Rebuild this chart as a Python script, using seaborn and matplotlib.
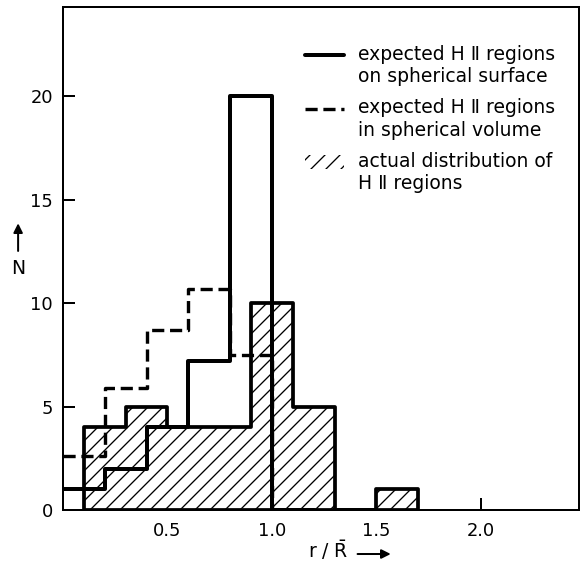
import matplotlib
matplotlib.use("Agg")
import matplotlib.pyplot as plt
from matplotlib.lines import Line2D
from matplotlib.patches import Patch, Rectangle
from matplotlib.legend_handler import HandlerLine2D, HandlerPatch
import numpy as np
import seaborn as sns

# binned counts
surface_edges = [0.0, 0.2, 0.4, 0.6, 0.8, 1.0, 1.2]
surface_counts = [1, 2, 4, 7.2, 20, 0]

volume_edges = [0.0, 0.2, 0.4, 0.6, 0.8, 1.0, 1.2]
volume_counts = [2.6, 5.9, 8.7, 10.7, 7.5, 0]

actual_edges = [0.1, 0.3, 0.5, 0.7, 0.9, 1.1, 1.3, 1.5, 1.7]
actual_counts = [4, 5, 4, 4, 10, 5, 0, 1]

x_ticks = [0.5, 1.0, 1.5, 2.0]
y_ticks = [0, 5, 10, 15, 20]

labels = ["expected H Ⅱ regions\non spherical surface",
          "expected H Ⅱ regions\nin spherical volume",
          "actual distribution of\nH Ⅱ regions"]

SHIFT = 0.6  # move legend handles up to the first text line


def centers(edges):
    e = np.array(edges)
    return (e[:-1] + e[1:]) / 2


class FirstLineHandler(HandlerLine2D):
    def create_artists(self, legend, orig_handle, xdescent, ydescent,
                       width, height, fontsize, trans):
        arts = super().create_artists(legend, orig_handle, xdescent, ydescent,
                                      width, height, fontsize, trans)
        for a in arts:
            a.set_ydata(np.asarray(a.get_ydata()) + SHIFT * fontsize)
        return arts


def hatch_box(legend, orig_handle, xdescent, ydescent, width, height, fontsize):
    return Rectangle((-xdescent, -ydescent + SHIFT * fontsize), width, height)


sns.set_style("ticks")
plt.rcParams["font.family"] = ["DejaVu Sans"]
plt.rcParams["mathtext.fontset"] = "dejavusans"
plt.rcParams["hatch.linewidth"] = 1.05
plt.rcParams["text.color"] = "black"
plt.rcParams["axes.labelcolor"] = "black"

DPI = 90
fig = plt.figure(figsize=(582 / DPI, 563 / DPI), dpi=DPI)
ax = fig.add_axes([63 / 582, 53 / 563, 516 / 582, 503 / 563])

dash = (0, (3.6, 1.7))

# actual distribution (hatched)
sns.histplot(x=centers(actual_edges), weights=actual_counts, bins=actual_edges,
             element="step", fill=True, facecolor="white", edgecolor="black",
             hatch="//", linewidth=3.0, ax=ax, zorder=2)
# expected on surface (solid)
sns.histplot(x=centers(surface_edges), weights=surface_counts, bins=surface_edges,
             element="step", fill=False, color="black", linewidth=3.2, ax=ax, zorder=3)
# expected in volume (dashed)
sns.histplot(x=centers(volume_edges), weights=volume_counts, bins=volume_edges,
             element="step", fill=False, color="black", linewidth=2.7,
             linestyle=dash, ax=ax, zorder=3)

ax.set_xlim(0, 2.47)
ax.set_ylim(0, 24.3)
ax.set_xticks(x_ticks)
ax.set_xticklabels([f"{v:.1f}" for v in x_ticks])
ax.set_yticks(y_ticks)
for s in ax.spines.values():
    s.set_linewidth(1.6)
    s.set_color("black")
ax.tick_params(direction="in", length=9.6, width=1.6, labelsize=14.3,
               colors="black")
ax.tick_params(axis="y", pad=8)
ax.tick_params(axis="x", pad=9.5)

ax.set_xlabel(r"r / $\mathrm{\bar{R}}$", fontsize=15)
ax.xaxis.set_label_coords(0.515, -0.056)
ax.set_ylabel("N", rotation=0, fontsize=15)
ax.yaxis.set_label_coords(-0.087, 0.462)
ax.annotate("", xy=(0.64, -0.0875), xytext=(0.566, -0.0875), xycoords="axes fraction",
            arrowprops=dict(arrowstyle="-|>", lw=1.6, color="black", mutation_scale=15),
            annotation_clip=False)
ax.annotate("", xy=(-0.087, 0.575), xytext=(-0.087, 0.51), xycoords="axes fraction",
            arrowprops=dict(arrowstyle="-|>", lw=1.6, color="black", mutation_scale=15),
            annotation_clip=False)

handles = [Line2D([], [], color="black", lw=3.2),
           Line2D([], [], color="black", lw=2.7, linestyle=dash),
           Patch(facecolor="white", edgecolor="black", linewidth=0, hatch="//")]
leg = ax.legend(handles, labels, loc="upper left", bbox_to_anchor=(0.469, 0.925),
                frameon=False, fontsize=15, handlelength=2.1, handletextpad=0.7,
                labelspacing=0.65, borderpad=0, borderaxespad=0,
                handler_map={Line2D: FirstLineHandler(),
                             Patch: HandlerPatch(patch_func=hatch_box)})
for t in leg.get_texts():
    t.set_linespacing(1.22)

fig.savefig("out.png", dpi=DPI)
